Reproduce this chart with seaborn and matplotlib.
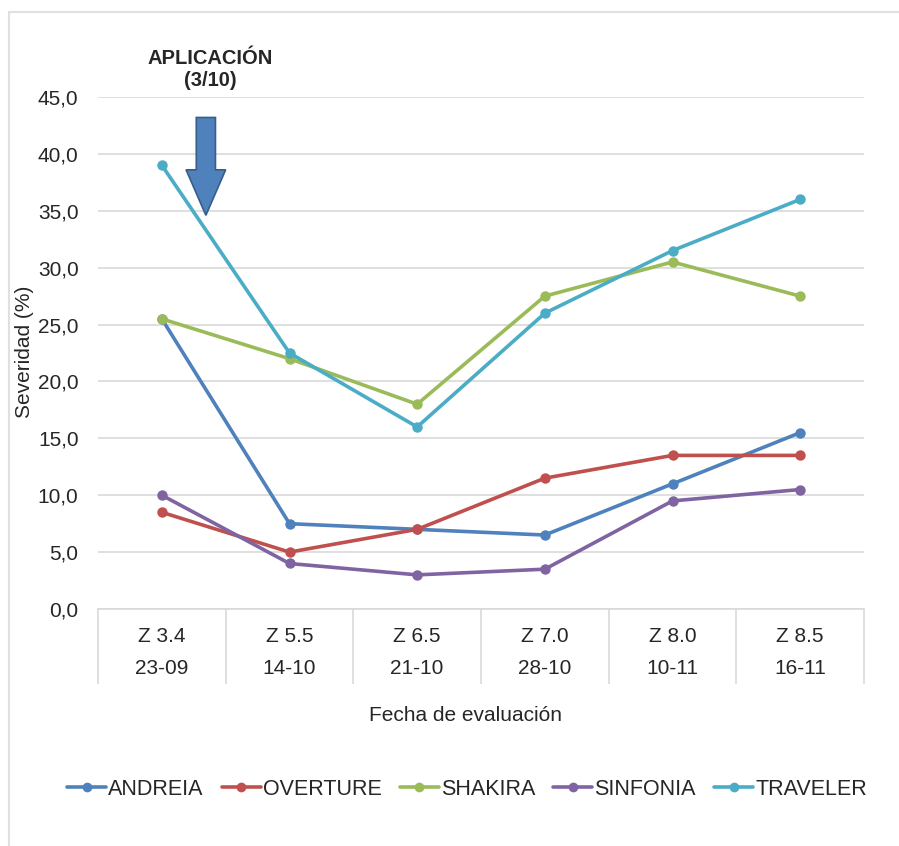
import numpy as np
import pandas as pd
import seaborn as sns
import matplotlib.pyplot as plt
from matplotlib.patches import FancyArrow
from matplotlib.lines import Line2D

# Datos
estados = ["Z 3.4", "Z 5.5", "Z 6.5", "Z 7.0", "Z 8.0", "Z 8.5"]
fechas = ["23-09", "14-10", "21-10", "28-10", "10-11", "16-11"]
variedades = ["ANDREIA", "OVERTURE", "SHAKIRA", "SINFONIA", "TRAVELER"]
andreia = [25.5, 7.5, 7.0, 6.5, 11.0, 15.5]
overture = [8.5, 5.0, 7.0, 11.5, 13.5, 13.5]
shakira = [25.5, 22.0, 18.0, 27.5, 30.5, 27.5]
sinfonia = [10.0, 4.0, 3.0, 3.5, 9.5, 10.5]
traveler = [39.0, 22.5, 16.0, 26.0, 31.5, 36.0]
colores = ["#4F81BD", "#C0504D", "#9BBB59", "#8064A2", "#4BACC6"]
yticks = np.arange(0, 50, 5)

etiquetas = [f"{e}\n{f}" for e, f in zip(estados, fechas)]
series = [andreia, overture, shakira, sinfonia, traveler]
df = pd.DataFrame({
    "fecha": etiquetas * len(variedades),
    "severidad": sum(series, []),
    "variedad": np.repeat(variedades, len(etiquetas)),
})

sns.set_style("white")
plt.rcParams["font.family"] = ["Liberation Sans", "DejaVu Sans"]
fs = 15

fig = plt.figure(figsize=(8.99, 8.46), dpi=100)
ax = fig.add_axes([98 / 899, 1 - 609 / 846, (864 - 98) / 899, (609 - 97) / 846])

sns.lineplot(data=df, x="fecha", y="severidad", hue="variedad", palette=colores,
             marker="o", markersize=7.5, markeredgewidth=0, linewidth=2.6,
             sort=False, legend=False, ax=ax)

ax.set_xlim(-0.5, len(etiquetas) - 0.5)
ax.set_ylim(0, 45)
ax.set_yticks(yticks)
ax.set_yticklabels([f"{v:.1f}".replace(".", ",") for v in yticks], fontsize=fs)
ax.yaxis.grid(True, color="#D9D9D9", linewidth=1.2)
ax.set_axisbelow(True)
for s in ["top", "right", "left"]:
    ax.spines[s].set_visible(False)
ax.spines["bottom"].set_color("#D9D9D9")
ax.spines["bottom"].set_linewidth(1.2)
ax.tick_params(axis="y", length=0, pad=14)

ax.set_xticks(range(len(etiquetas)))
ax.set_xticklabels(etiquetas, fontsize=fs, linespacing=1.85)
ax.set_xticks(np.arange(-0.5, len(etiquetas)), minor=True)
ax.tick_params(axis="x", which="major", bottom=True, length=0, pad=13)
ax.tick_params(axis="x", which="minor", bottom=True, length=54, width=1.2,
               color="#D9D9D9", direction="out")
ax.set_xlabel("")
ax.set_ylabel("")

fig.text(25 / 899, 1 - 352 / 846, "Severidad (%)", rotation=90, ha="center", va="center", fontsize=fs)
fig.text(465 / 899, 1 - 715 / 846, "Fecha de evaluación", ha="center", va="center", fontsize=fs)

# Anotación de la aplicación
fig.text(210 / 899, 1 - 70 / 846, "APLICACIÓN\n(3/10)", ha="center", va="center",
         fontsize=14.5, fontweight="bold", linespacing=1.2)
flecha = FancyArrow(0.345, 43.2, 0, -8.6, width=0.15, head_width=0.31, head_length=4.0,
                    length_includes_head=True, facecolor="#4F81BD", edgecolor="#385D8A",
                    linewidth=1.2, clip_on=False, zorder=1)
ax.add_patch(flecha)

manejadores = [Line2D([0], [0], color=c, marker="o", markersize=7, linewidth=2.6,
                      markeredgewidth=0) for c in colores]
fig.legend(manejadores, variedades, loc="center", bbox_to_anchor=(467 / 899, 1 - 789 / 846),
           ncol=5, frameon=False, fontsize=15.5, handlelength=1.8, handletextpad=0.1,
           columnspacing=0.85)

# Marco gris del recuadro
fig.add_artist(Line2D([9 / 899, 9 / 899], [0, 1 - 12 / 846], color="#E0E0E0", linewidth=1.5))
fig.add_artist(Line2D([9 / 899, 1], [1 - 12 / 846, 1 - 12 / 846], color="#E0E0E0", linewidth=1.5))

fig.savefig("out.png", dpi=100)
